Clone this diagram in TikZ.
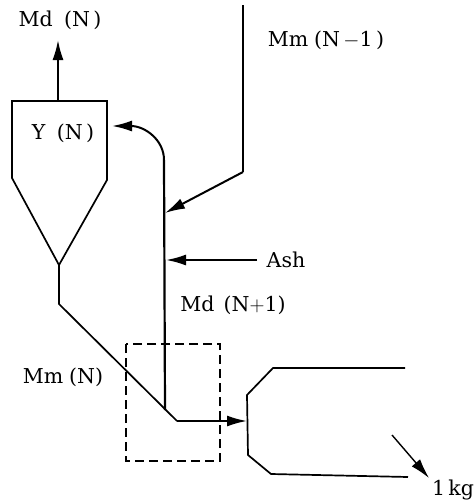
\documentclass[tikz,border=0pt]{standalone}
\usepackage{fontspec}
\setmainfont{DejaVu Serif}
\usepackage{xcolor}
\usepackage{tikz}
\usetikzlibrary{arrows.meta}

\begin{document}
\begin{tikzpicture}[x=1pt, y=-1pt]
        \tikzstyle{every node}=[font=\fontsize{20.5}{24}\selectfont, inner sep=0pt]
        \tikzstyle{pipe}=[line width=1.7pt, line join=miter]
        \tikzstyle{riser}=[line width=2.2pt]
        \tikzstyle{flow}=[line width=2pt, -{Latex[length=20pt, width=11pt]}]
        \useasboundingbox (0,0) rectangle (474,504);

        % Labels
        \node (mdn) at (60, 20) {Md\;\;(N\,)};
        \node (yn) at (63, 133) {Y\;\;(N\,)};
        \node (mmprev) at (326, 40) {Mm\;(N\,$-$1\,)};
        \node (ash) at (286, 260) {Ash};
        \node (mdnext) at (233, 305) {Md\;\,(N$+$1)};
        \node (mmn) at (63, 377) {Mm\;(N)};
        \node (kg) at (453, 490) {1\,kg};

        % Cyclone
        \coordinate (ctop) at (58, 101);
        \coordinate (cin) at (112, 126);
        \coordinate (capex) at (59, 265);
        \draw[pipe] (12,101) -- (107,101) -- (107,180) -- (capex) -- (12,178) -- cycle;
        \draw[flow] (ctop) -- (58, 40);

        % Riser
        \coordinate (rtop) at (164, 160);
        \coordinate (rfeed) at (165, 213);
        \coordinate (rash) at (166, 260);
        \coordinate (rbot) at (165, 410);
        \draw[riser] (rbot) -- (rtop);
        \draw[flow] (rtop) .. controls (164, 140) and (145, 126) .. (cin);

        % Feed from stage above
        \coordinate (feedstart) at (243, 5);
        \coordinate (feedbend) at (243, 172);
        \draw[pipe] (feedstart) -- (feedbend);
        \draw[flow] (feedbend) -- (rfeed);

        % Ash feed
        \coordinate (ashstart) at (257, 260);
        \draw[flow] (ashstart) -- (rash);

        % Outlet to vessel
        \coordinate (obend) at (59, 304);
        \coordinate (ocorner) at (177, 421);
        \coordinate (vin) at (247, 421);
        \draw[pipe] (capex) -- (obend) -- (ocorner);
        \draw[flow] (ocorner) -- (vin);

        % Control volume
        \draw[line width=1.3pt, dash pattern=on 9pt off 5pt] (126,344) rectangle (220,461);

        % Vessel
        \draw[pipe] (405,368) -- (273,368) -- (247,395) -- (248,455) -- (271,474) -- (408,477);
        \coordinate (outstart) at (392, 435);
        \coordinate (outend) at (429, 478);
        \draw[flow, line width=1.4pt] (outstart) -- (outend);
\end{tikzpicture}
\end{document}
